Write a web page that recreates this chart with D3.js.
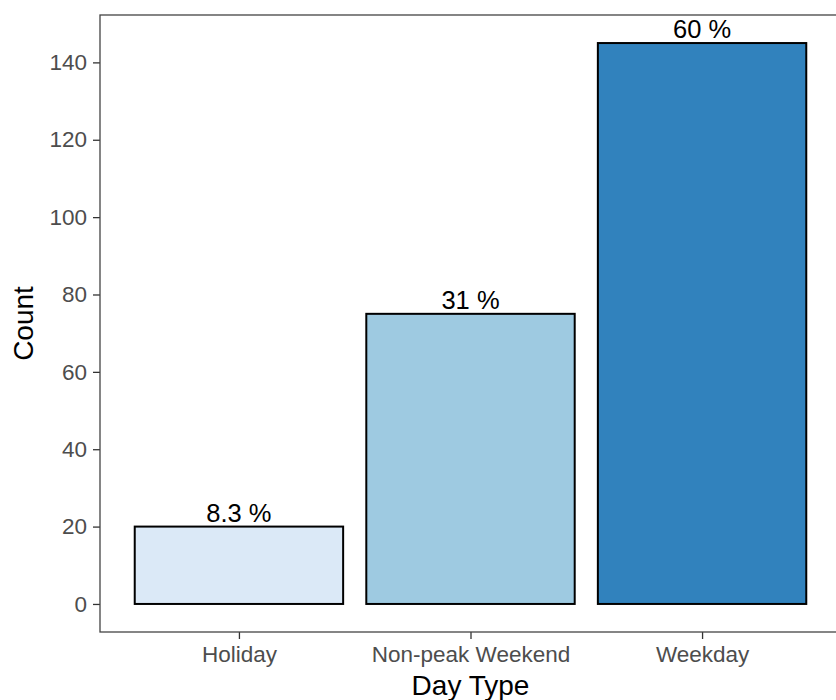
<!DOCTYPE html>
<html>
<head>
<meta charset="utf-8">
<script src="https://cdn.jsdelivr.net/npm/d3@7"></script>
<style>
  body { margin: 0; background: #fff; }
  text { font-family: "Liberation Sans", Arial, sans-serif; }
</style>
</head>
<body>
<svg id="chart" width="836" height="700"></svg>
<script>
// values
const dayTypes = ["Holiday", "Non-peak Weekend", "Weekday"];
const counts = [20, 75, 145];
const pctLabels = ["8.3 %", "31 %", "60 %"];
const fills = ["#dbe9f7", "#9ecae1", "#3182bd"];
const yTicks = [0, 20, 40, 60, 80, 100, 120, 140];

const w = 836, h = 700;
const panel = { left: 100, top: 15, right: 841, bottom: 632 };

const svg = d3.select("#chart");

// ggplot style discrete scale: 0.6 unit expansion each side
const x = d3.scalePoint()
    .domain(dayTypes)
    .range([panel.left, panel.right])
    .padding(0.6);
const step = x.step();
const barW = step * 0.9;

const maxV = d3.max(counts);
const y = d3.scaleLinear()
    .domain([-maxV * 0.05, maxV * 1.05])
    .range([panel.bottom, panel.top]);

// bars
svg.selectAll("rect.bar")
    .data(counts)
    .enter()
    .append("rect")
    .attr("class", "bar")
    .attr("x", (d, i) => x(dayTypes[i]) - barW / 2)
    .attr("y", d => y(d))
    .attr("width", barW)
    .attr("height", d => y(0) - y(d))
    .attr("fill", (d, i) => fills[i])
    .attr("stroke", "#000")
    .attr("stroke-width", 2);

// percent labels
svg.selectAll("text.pct")
    .data(counts)
    .enter()
    .append("text")
    .attr("class", "pct")
    .attr("x", (d, i) => x(dayTypes[i]))
    .attr("y", d => y(d) - 5)
    .attr("text-anchor", "middle")
    .attr("font-size", 25.5)
    .attr("fill", "#000")
    .text((d, i) => pctLabels[i]);

// y axis
const yAxis = svg.append("g")
    .attr("transform", `translate(${panel.left},0)`)
    .call(d3.axisLeft(y).tickValues(yTicks).tickSize(7).tickPadding(6));
yAxis.select(".domain").remove();
yAxis.selectAll("line").attr("stroke", "#333").attr("stroke-width", 1.3);
yAxis.selectAll("text").attr("font-size", 22.5).attr("fill", "#4d4d4d")
    .attr("font-family", "Liberation Sans, Arial, sans-serif");

// x axis
const xAxis = svg.append("g")
    .attr("transform", `translate(0,${panel.bottom})`)
    .call(d3.axisBottom(x).tickSize(7).tickPadding(7));
xAxis.select(".domain").remove();
xAxis.selectAll("line").attr("stroke", "#333").attr("stroke-width", 1.3);
xAxis.selectAll("text").attr("font-size", 22.5).attr("fill", "#4d4d4d")
    .attr("font-family", "Liberation Sans, Arial, sans-serif");

// panel border
svg.append("rect")
    .attr("x", panel.left)
    .attr("y", panel.top)
    .attr("width", panel.right - panel.left)
    .attr("height", panel.bottom - panel.top)
    .attr("fill", "none")
    .attr("stroke", "#444")
    .attr("stroke-width", 1.3);

// axis titles
svg.append("text")
    .attr("x", (panel.left + panel.right) / 2)
    .attr("y", 695)
    .attr("text-anchor", "middle")
    .attr("font-size", 28)
    .text("Day Type");

svg.append("text")
    .attr("transform", `translate(33,${(panel.top + panel.bottom) / 2}) rotate(-90)`)
    .attr("text-anchor", "middle")
    .attr("font-size", 28)
    .text("Count");
</script>
</body>
</html>
